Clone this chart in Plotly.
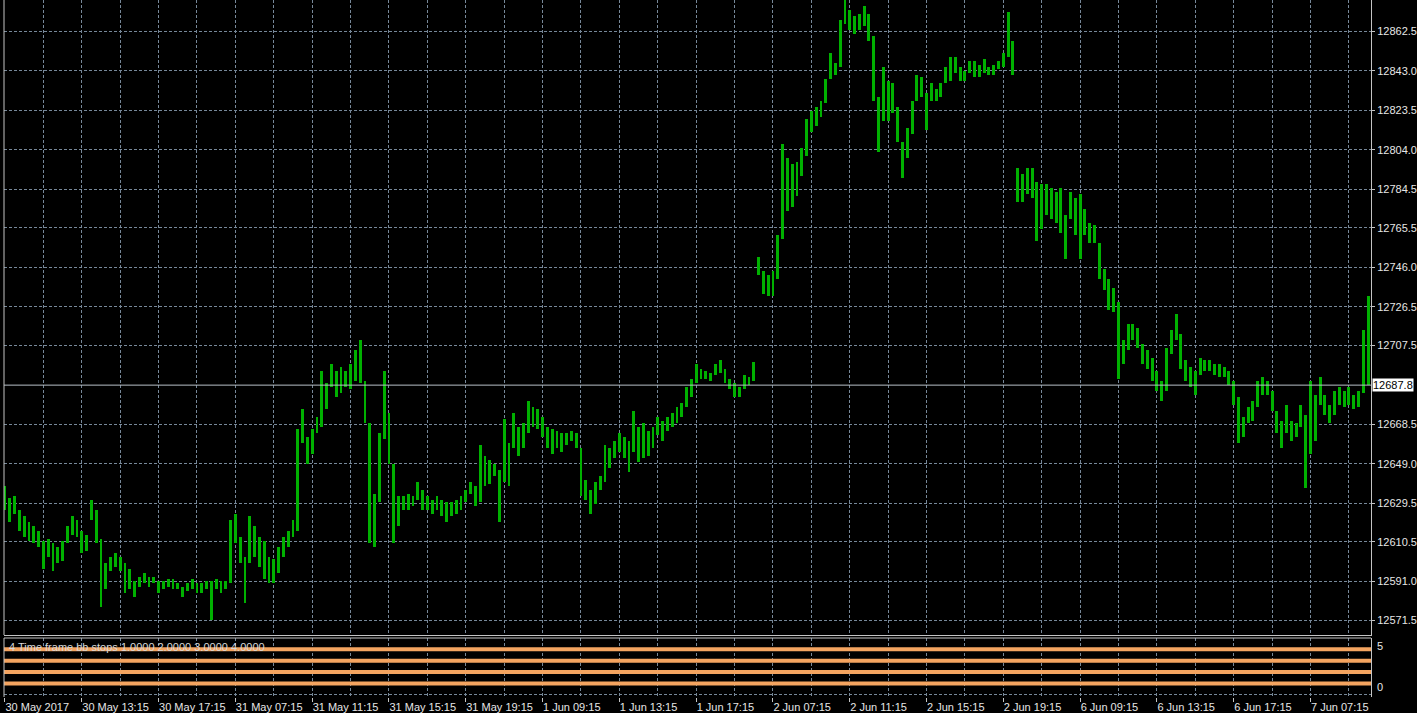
import plotly.graph_objects as go

# ---------------- data ----------------
bar_high = [
    12638, 12632, 12633, 12626, 12623, 12620, 12618, 12616, 12611, 12612,
    12610, 12608, 12611, 12618, 12623, 12621, 12616, 12614, 12631, 12626,
    12612, 12600, 12603, 12605, 12603, 12600, 12597, 12591, 12593, 12595,
    12593, 12593, 12591, 12591, 12592, 12592, 12590, 12588, 12590, 12592,
    12590, 12590, 12591, 12591, 12592, 12591, 12591, 12621, 12624, 12613,
    12603, 12623, 12618, 12613, 12611, 12603, 12602, 12608, 12613, 12616,
    12621, 12666, 12676, 12662, 12666, 12672, 12695, 12689, 12698, 12695,
    12697, 12695, 12698, 12705, 12710, 12690, 12669, 12634, 12664, 12695,
    12674, 12649, 12633, 12633, 12634, 12633, 12640, 12636, 12633, 12631,
    12633, 12631, 12630, 12630, 12631, 12633, 12636, 12640, 12638, 12658,
    12653, 12651, 12649, 12646, 12671, 12659, 12674, 12667, 12669, 12680,
    12677, 12676, 12672, 12667, 12666, 12665, 12664, 12664, 12665, 12664,
    12657, 12641, 12636, 12640, 12643, 12658, 12657, 12660, 12664, 12662,
    12660, 12675, 12667, 12669, 12665, 12667, 12672, 12670, 12672, 12674,
    12677, 12679, 12687, 12691, 12698, 12696, 12695, 12694, 12698, 12700,
    12696, 12691, 12689, 12687, 12693, 12692, 12699, 12751, 12744, 12742,
    12744, 12762, 12807, 12800, 12797, 12798, 12805, 12819, 12823, 12825,
    12828, 12839, 12852, 12847, 12868, 12878, 12873, 12870, 12871, 12875,
    12871, 12860, 12830, 12845, 12838, 12837, 12825, 12808, 12815, 12828,
    12841, 12840, 12832, 12837, 12834, 12837, 12845, 12850, 12850, 12845,
    12843, 12848, 12848, 12846, 12849, 12845, 12846, 12848, 12852, 12872,
    12858, 12795, 12792, 12795, 12795, 12788, 12787, 12787, 12785, 12783,
    12785, 12772, 12783, 12780, 12782, 12775, 12768, 12767, 12758, 12745,
    12740, 12736, 12729, 12710, 12718, 12718, 12716, 12708, 12705, 12701,
    12695, 12690, 12706, 12715, 12723, 12713, 12700, 12697, 12695, 12701,
    12700, 12700, 12698, 12698, 12697, 12695, 12690, 12682, 12672, 12677,
    12680, 12690, 12692, 12690, 12685, 12675, 12670, 12678, 12670, 12669,
    12678, 12673, 12690, 12683, 12692, 12683, 12678, 12685, 12687, 12685,
    12687, 12683, 12685, 12715, 12732,
]
bar_low = [
    12626, 12620, 12624, 12616, 12613, 12611, 12610, 12608, 12597, 12603,
    12596, 12600, 12601, 12610, 12614, 12613, 12605, 12606, 12621, 12610,
    12578, 12587, 12596, 12598, 12596, 12585, 12587, 12583, 12588, 12590,
    12588, 12590, 12585, 12587, 12588, 12587, 12587, 12583, 12586, 12587,
    12585, 12585, 12587, 12572, 12587, 12585, 12587, 12590, 12610, 12600,
    12580, 12600, 12603, 12598, 12592, 12590, 12590, 12595, 12603, 12608,
    12613, 12616, 12659, 12649, 12654, 12664, 12667, 12676, 12687, 12682,
    12684, 12687, 12686, 12690, 12689, 12669, 12610, 12608, 12630, 12661,
    12649, 12610, 12618, 12626, 12626, 12628, 12631, 12626, 12626, 12624,
    12626, 12623, 12620, 12623, 12624, 12626, 12630, 12634, 12628, 12630,
    12638, 12639, 12643, 12620, 12640, 12638, 12657, 12653, 12657, 12664,
    12667, 12666, 12662, 12657, 12654, 12657, 12655, 12658, 12660, 12657,
    12633, 12631, 12624, 12629, 12636, 12640, 12647, 12652, 12655, 12652,
    12645, 12655, 12650, 12652, 12653, 12657, 12663, 12660, 12665, 12667,
    12669, 12672, 12677, 12682, 12689, 12691, 12691, 12690, 12693, 12694,
    12689, 12686, 12682, 12682, 12686, 12688, 12690, 12742, 12733, 12732,
    12732, 12740, 12760, 12774, 12776, 12781, 12791, 12801, 12813, 12816,
    12820, 12827, 12839, 12841, 12845, 12866, 12863, 12861, 12863, 12865,
    12858, 12828, 12803, 12818, 12818, 12822, 12808, 12790, 12800, 12812,
    12828, 12830, 12814, 12828, 12828, 12830, 12837, 12838, 12842, 12838,
    12838, 12842, 12840, 12840, 12842, 12841, 12841, 12844, 12845, 12850,
    12841, 12778, 12778, 12782, 12780, 12759, 12765, 12772, 12770, 12768,
    12763, 12750, 12770, 12762, 12750, 12762, 12758, 12758, 12740, 12735,
    12725, 12724, 12691, 12698, 12705, 12710, 12706, 12698, 12696, 12690,
    12685, 12680, 12685, 12703, 12710, 12696, 12690, 12687, 12683, 12693,
    12695, 12695, 12693, 12692, 12692, 12688, 12678, 12659, 12662, 12669,
    12670, 12677, 12683, 12683, 12675, 12664, 12657, 12664, 12660, 12662,
    12667, 12637, 12654, 12660, 12678, 12673, 12669, 12673, 12678, 12677,
    12678, 12676, 12677, 12684, 12688,
]
bar_index = list(range(len(bar_high)))

time_labels = [
    "30 May 2017", "30 May 13:15", "30 May 17:15", "31 May 07:15", "31 May 11:15",
    "31 May 15:15", "31 May 19:15", "1 Jun 09:15", "1 Jun 13:15", "1 Jun 17:15",
    "2 Jun 07:15", "2 Jun 11:15", "2 Jun 15:15", "2 Jun 19:15", "6 Jun 09:15",
    "6 Jun 13:15", "6 Jun 17:15", "7 Jun 07:15",
]
bars_per_label = 16
time_label_bars = [k * bars_per_label for k in range(len(time_labels))]
grid_bars = list(range(0, len(bar_high), bars_per_label // 2))

price_ticks = [12571.5, 12591.0, 12610.5, 12629.5, 12649.0, 12668.5, 12707.5,
               12726.5, 12746.0, 12765.5, 12784.5, 12804.0, 12823.5, 12843.0, 12862.5]
price_tick_text = [f"{v:.1f}" for v in price_ticks]
bid_price = 12687.8

bb_stop_levels = [1, 2, 3, 4]
indicator_title = "4 Time frame bb stops 1.0000 2.0000 3.0000 4.0000"

# ---------------- styling ----------------
W, H = 1417, 713
BAR_GREEN = "#00b000"
GRID = "#778899"          # LightSlateGray
FRAME = "#c4c4c4"
TEXT = "#e6e6e6"
ORANGE = "#f4a460"
FONT = "Liberation Sans, Arial, sans-serif"


def fx(p):
    return p / W


def fy(p):
    return 1 - p / H


x_dom = [fx(4), fx(1371)]
x_rng = [-0.2, 284.6]
main_dom = [fy(635), 1.0]
sub_dom = [fy(697), fy(638)]
main_rng = [12564.4, 12878.0]

fig = go.Figure()

fig.add_trace(go.Bar(
    x=bar_index,
    base=bar_low,
    y=[h - l for h, l in zip(bar_high, bar_low)],
    width=0.6,
    marker=dict(color=BAR_GREEN, line=dict(width=0)),
    xaxis="x", yaxis="y", hoverinfo="skip",
))

# invisible trace so the sub-window axes exist
fig.add_trace(go.Scatter(x=[x_rng[0], x_rng[1]], y=[bb_stop_levels[0]] * 2,
                         mode="lines", line=dict(width=0), xaxis="x2", yaxis="y2",
                         hoverinfo="skip"))

shapes = []
for lvl in bb_stop_levels:
    shapes.append(dict(type="line", xref="x2 domain", yref="y2", x0=0, x1=1,
                       y0=lvl, y1=lvl, line=dict(color=ORANGE, width=4), layer="above"))
# bid line
shapes.append(dict(type="line", xref="x domain", yref="y", x0=0, x1=1,
                   y0=bid_price, y1=bid_price, line=dict(color="#b8c0c8", width=1)))
# frame lines
shapes.append(dict(type="line", xref="x domain", yref="y domain", x0=0, x1=0, y0=0, y1=1,
                   line=dict(color=FRAME, width=1)))
shapes.append(dict(type="line", xref="x2 domain", yref="y2 domain", x0=0, x1=0, y0=0, y1=1,
                   line=dict(color=FRAME, width=1)))
shapes.append(dict(type="line", xref="x2 domain", yref="y2 domain", x0=0, x1=1, y0=1, y1=1,
                   line=dict(color=FRAME, width=1)))

annotations = [
    dict(text=f"{bid_price:.1f}", xref="paper", yref="y", x=fx(1372), y=bid_price,
         xanchor="left", yanchor="middle", showarrow=False, bgcolor="#ffffff",
         font=dict(color="#000000", size=11, family=FONT), borderpad=0),
    dict(text=indicator_title, xref="paper", yref="paper", x=fx(7), y=fy(647),
         xanchor="left", yanchor="middle", showarrow=False,
         font=dict(color="#d8d8d8", size=11, family=FONT)),
    dict(text="5", xref="paper", yref="paper", x=fx(1375), y=fy(638),
         xanchor="left", yanchor="top", showarrow=False,
         font=dict(color=TEXT, size=11, family=FONT)),
    dict(text="0", xref="paper", yref="y2", x=fx(1375), y=0,
         xanchor="left", yanchor="bottom", showarrow=False,
         font=dict(color=TEXT, size=11, family=FONT)),
]

fig.update_layout(
    width=W, height=H,
    margin=dict(l=0, r=0, t=0, b=0),
    paper_bgcolor="#000000", plot_bgcolor="#000000",
    showlegend=False, bargap=0,
    font=dict(family=FONT, size=11, color=TEXT),
    shapes=shapes, annotations=annotations,
    xaxis=dict(domain=x_dom, range=x_rng, anchor="y", tickmode="array",
               tickvals=grid_bars, showticklabels=False, ticks="",
               showgrid=True, gridcolor=GRID, griddash="3px,2px", gridwidth=1,
               showline=True, linecolor=FRAME, linewidth=1, zeroline=False,
               fixedrange=True, automargin=False),
    yaxis=dict(domain=main_dom, range=main_rng, anchor="x", side="right",
               tickmode="array", tickvals=price_ticks, ticktext=price_tick_text,
               ticks="outside", ticklen=3, tickcolor=FRAME,
               showgrid=True, gridcolor=GRID, griddash="3px,2px", gridwidth=1,
               showline=True, linecolor=FRAME, linewidth=1, zeroline=False,
               tickfont=dict(size=11, color=TEXT, family=FONT),
               fixedrange=True, automargin=False),
    xaxis2=dict(domain=x_dom, range=x_rng, anchor="y2", tickmode="array",
                tickvals=time_label_bars, ticktext=time_labels,
                ticklabelposition="outside right",
                ticks="outside", ticklen=4, tickcolor=FRAME,
                showgrid=True, gridcolor=GRID, griddash="3px,2px", gridwidth=1,
                minor=dict(tickvals=grid_bars, showgrid=True, gridcolor=GRID,
                           griddash="3px,2px", ticks=""),
                showline=False, zeroline=False,
                tickfont=dict(size=11, color=TEXT, family=FONT),
                fixedrange=True, automargin=False),
    yaxis2=dict(domain=sub_dom, range=[-0.2, 5.0], anchor="x2", side="right",
                tickmode="array", tickvals=[0], showticklabels=False, ticks="",
                showgrid=True, gridcolor=GRID, griddash="3px,2px", gridwidth=1,
                showline=True, linecolor=FRAME, linewidth=1, zeroline=False,
                fixedrange=True, automargin=False),
)

fig.write_html(
    "out.html",
    config={"displayModeBar": False},
    post_script="document.body.style.margin='0';document.body.style.background='#000';",
)
